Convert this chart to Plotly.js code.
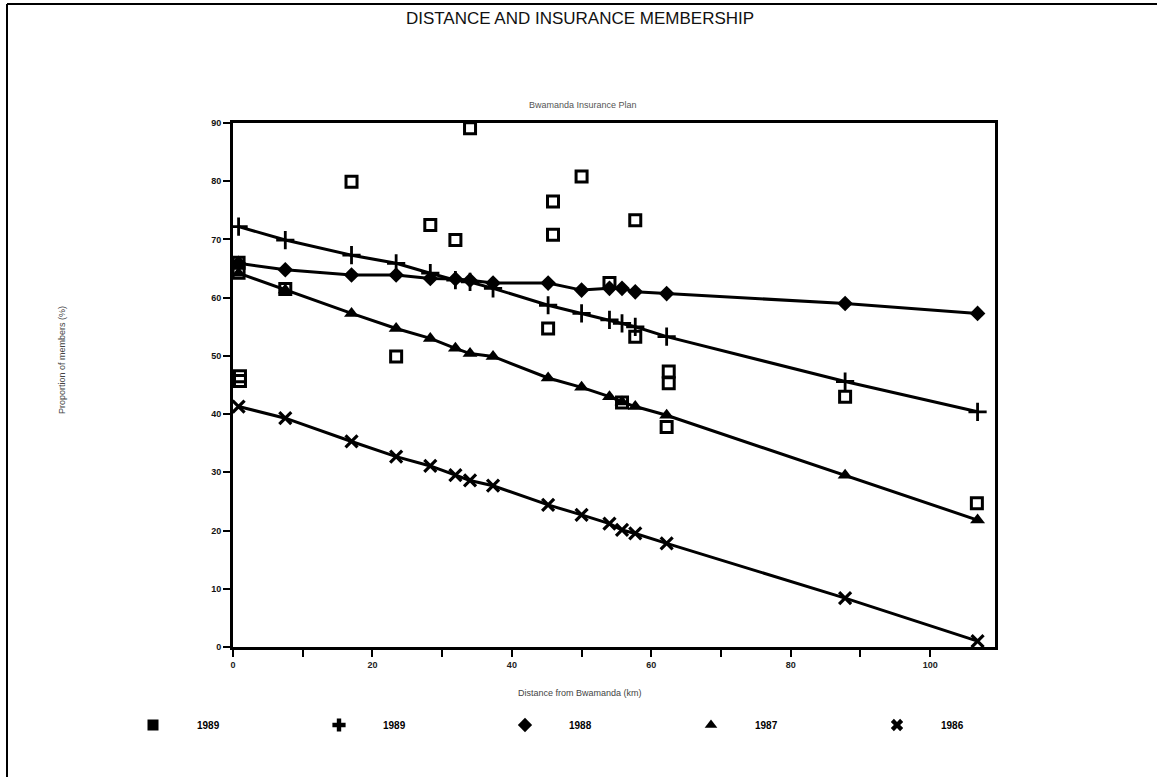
<!DOCTYPE html>
<html>
<head>
<meta charset="utf-8">
<script src="https://cdn.plot.ly/plotly-3.0.1.min.js"></script>
<style>
  html, body { margin: 0; padding: 0; background: #ffffff; }
  #chart { width: 1160px; height: 777px; }
</style>
</head>
<body>
<div id="chart"></div>
<script>
// ---- Data ----
var distanceKm = [0.8, 7.5, 17.0, 23.4, 28.3, 31.9, 34.0, 37.3, 45.2, 50.0, 54.0, 55.8, 57.7, 62.2, 87.8, 106.8];
var members1989Line = [72.2, 69.9, 67.3, 65.9, 64.2, 63.0, 62.7, 61.6, 58.7, 57.3, 56.2, 55.6, 55.0, 53.3, 45.6, 40.4];
var members1988 = [65.9, 64.8, 63.9, 63.9, 63.3, 63.2, 63.0, 62.5, 62.5, 61.3, 61.6, 61.6, 61.0, 60.7, 59.0, 57.3];
var members1987 = [64.2, 61.3, 57.3, 54.7, 53.0, 51.3, 50.4, 49.9, 46.2, 44.6, 43.0, 42.1, 41.3, 39.8, 29.5, 21.8];
var members1986 = [41.3, 39.3, 35.3, 32.7, 31.1, 29.5, 28.6, 27.7, 24.4, 22.7, 21.2, 20.1, 19.5, 17.8, 8.4, 1.0];

var squareDistanceKm = [0.8, 0.8, 1.0, 1.0, 7.5, 17.0, 23.4, 28.3, 31.9, 34.0, 45.2, 45.9, 45.9, 50.0, 54.0, 55.8, 57.7, 57.7, 62.2, 62.5, 62.5, 87.8, 106.7];
var squareMembers1989 = [66.0, 64.3, 46.5, 45.7, 61.5, 79.9, 49.9, 72.5, 69.9, 89.1, 54.7, 76.5, 70.8, 80.8, 62.5, 42.0, 73.3, 53.3, 37.8, 47.3, 45.3, 43.0, 24.7];

var legendLabels = ['1989', '1989', '1988', '1987', '1986'];
var xTickValues = [0, 10, 20, 30, 40, 50, 60, 70, 80, 90, 100];
var xTickLabels = ['0', '', '20', '', '40', '', '60', '', '80', '', '100'];
var yTickValues = [0, 10, 20, 30, 40, 50, 60, 70, 80, 90];

// ---- Traces ----
var black = '#000000';
var traces = [];

// square points (no line)
traces.push({
  x: squareDistanceKm, y: squareMembers1989, type: 'scatter', mode: 'markers',
  showlegend: false,
  marker: { symbol: 'square-open', size: 11, color: black, line: { width: 3, color: black } }
});

var lineSeries = [
  { y: members1989Line, symbol: 'cross-thin', size: 13, lw: 2.8 },
  { y: members1988, symbol: 'diamond', size: 12, lw: 0 },
  { y: members1987, symbol: 'triangle-up', size: 13, lw: 0 },
  { y: members1986, symbol: 'x-thin', size: 12, lw: 3.2 }
];
lineSeries.forEach(function (s) {
  traces.push({
    x: distanceKm, y: s.y, type: 'scatter', mode: 'lines+markers', showlegend: false,
    line: { color: black, width: 3 },
    marker: { symbol: s.symbol, size: s.size, color: black, line: { width: s.lw, color: black } }
  });
});

// legend entries (filled symbols as in the printed key)
var legendSymbols = ['square', 'cross', 'diamond', 'triangle-up', 'x'];
legendLabels.forEach(function (lab, i) {
  traces.push({
    x: [null], y: [null], type: 'scatter', mode: 'markers', name: lab, showlegend: true,
    marker: { symbol: legendSymbols[i], size: 11, color: black }
  });
});

// ---- Layout ----
var W = 1160, H = 777;
var L = 233, R = 995, T = 123, B = 647;
function px2paperX(px) { return (px - L) / (R - L); }
function px2paperY(py) { return (B - py) / (B - T); }

var layout = {
  width: W, height: H,
  margin: { l: L, r: W - R, t: T, b: H - B, pad: 0 },
  paper_bgcolor: '#ffffff', plot_bgcolor: '#ffffff',
  font: { family: 'Liberation Sans, Arial, sans-serif', color: black, size: 10 },
  title: {
    text: 'DISTANCE AND INSURANCE MEMBERSHIP',
    font: { family: 'Liberation Sans, Arial, sans-serif', size: 17, color: '#111111' },
    x: 580 / W, xref: 'container', xanchor: 'center',
    y: 1 - 18 / H, yref: 'container', yanchor: 'middle'
  },
  xaxis: {
    range: [0, 109.3], showgrid: false, zeroline: false,
    showline: true, linewidth: 3, linecolor: black, mirror: true,
    ticks: 'outside', ticklen: 7, tickwidth: 2, tickcolor: black,
    tickmode: 'array', tickvals: xTickValues, ticktext: xTickLabels,
    tickfont: { size: 9, color: '#222222', weight: 'bold' }
  },
  yaxis: {
    range: [0, 90], showgrid: false, zeroline: false,
    showline: true, linewidth: 3, linecolor: black, mirror: true,
    ticks: 'outside', ticklen: 7, tickwidth: 2, tickcolor: black,
    tickmode: 'array', tickvals: yTickValues,
    tickfont: { size: 9, color: '#111111', weight: 'bold' }
  },
  showlegend: true,
  legend: {
    orientation: 'h', x: px2paperX(109), xanchor: 'left',
    y: px2paperY(725), yanchor: 'middle',
    itemwidth: 78, entrywidth: 93, entrywidthmode: 'pixels',
    font: { size: 10, color: black, weight: 'bold' },
    bgcolor: 'rgba(0,0,0,0)', traceorder: 'normal'
  },
  annotations: [
    { text: 'Bwamanda Insurance Plan', xref: 'paper', yref: 'paper',
      x: px2paperX(583), y: px2paperY(105), xanchor: 'center', yanchor: 'middle',
      showarrow: false, font: { size: 9, color: '#555555' } },
    { text: 'Distance from Bwamanda (km)', xref: 'paper', yref: 'paper',
      x: px2paperX(580), y: px2paperY(693), xanchor: 'center', yanchor: 'middle',
      showarrow: false, font: { size: 9, color: '#444444' } },
    { text: 'Proportion of members (%)', xref: 'paper', yref: 'paper',
      x: px2paperX(62), y: px2paperY(360), xanchor: 'center', yanchor: 'middle',
      textangle: -90, showarrow: false, font: { size: 9, color: '#444444' } }
  ],
  shapes: [
    { type: 'line', xref: 'paper', yref: 'paper',
      x0: px2paperX(7), x1: px2paperX(7), y0: px2paperY(4), y1: px2paperY(777),
      line: { color: black, width: 2 } },
    { type: 'line', xref: 'paper', yref: 'paper',
      x0: px2paperX(7), x1: px2paperX(1157), y0: px2paperY(4), y1: px2paperY(4),
      line: { color: black, width: 2 } }
  ]
};

Plotly.newPlot('chart', traces, layout, { displayModeBar: false, staticPlot: true });
</script>
</body>
</html>
